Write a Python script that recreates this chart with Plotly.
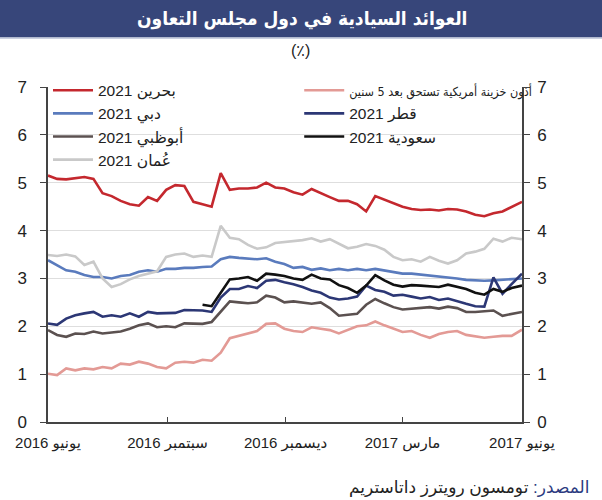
import datetime as dt
import plotly.graph_objects as go

start = dt.date(2016, 6, 1)
dates = [(start + dt.timedelta(days=7 * k)).isoformat() for k in range(52)] + ["2017-06-01"]

bahrain = [5.15, 5.08, 5.07, 5.09, 5.12, 5.08, 4.78, 4.72, 4.62, 4.55, 4.52, 4.70, 4.62,
           4.85, 4.95, 4.93, 4.60, 4.55, 4.50, 5.20, 4.85, 4.88, 4.88, 4.90, 5.00, 4.90,
           4.88, 4.80, 4.75, 4.87, 4.78, 4.70, 4.62, 4.62, 4.55, 4.40, 4.72, 4.65, 4.58,
           4.50, 4.45, 4.43, 4.44, 4.42, 4.45, 4.44, 4.40, 4.33, 4.30, 4.36, 4.40, 4.50, 4.60]
oman = [3.49, 3.47, 3.50, 3.46, 3.28, 3.35, 3.00, 2.82, 2.88, 2.98, 3.05, 3.10, 3.15,
        3.45, 3.50, 3.52, 3.45, 3.48, 3.45, 4.10, 3.85, 3.82, 3.70, 3.62, 3.65, 3.74,
        3.76, 3.77, 3.80, 3.84, 3.77, 3.82, 3.72, 3.63, 3.66, 3.72, 3.68, 3.60, 3.45,
        3.38, 3.40, 3.35, 3.45, 3.37, 3.31, 3.38, 3.52, 3.56, 3.62, 3.83, 3.77, 3.85, 3.82]
dubai = [3.38, 3.28, 3.17, 3.14, 3.07, 3.03, 3.03, 3.00, 3.05, 3.07, 3.14, 3.17, 3.14,
         3.20, 3.20, 3.22, 3.22, 3.24, 3.25, 3.40, 3.45, 3.43, 3.42, 3.40, 3.42, 3.35,
         3.30, 3.22, 3.24, 3.18, 3.21, 3.17, 3.20, 3.17, 3.20, 3.17, 3.20, 3.17, 3.14,
         3.10, 3.10, 3.08, 3.06, 3.05, 3.02, 3.00, 2.97, 2.96, 2.95, 2.96, 2.97, 2.98, 3.00]
qatar = [2.06, 2.03, 2.16, 2.23, 2.27, 2.30, 2.20, 2.23, 2.20, 2.27, 2.20, 2.30, 2.27,
         2.27, 2.28, 2.34, 2.33, 2.33, 2.30, 2.60, 2.78, 2.78, 2.84, 2.80, 2.95, 2.97,
         2.92, 2.88, 2.82, 2.75, 2.70, 2.60, 2.56, 2.58, 2.62, 2.85, 2.76, 2.72, 2.64,
         2.66, 2.62, 2.58, 2.61, 2.55, 2.58, 2.52, 2.47, 2.42, 2.41, 3.02, 2.68, 2.88, 3.10]
abudhabi = [1.92, 1.82, 1.78, 1.85, 1.84, 1.89, 1.85, 1.87, 1.89, 1.95, 2.02, 2.06, 1.98,
            2.00, 1.98, 2.06, 2.06, 2.05, 2.09, 2.30, 2.52, 2.50, 2.48, 2.50, 2.64, 2.60,
            2.50, 2.52, 2.50, 2.47, 2.50, 2.38, 2.22, 2.24, 2.26, 2.45, 2.57, 2.48, 2.40,
            2.35, 2.37, 2.38, 2.40, 2.37, 2.41, 2.38, 2.30, 2.30, 2.31, 2.33, 2.22, 2.25, 2.30]
ust5 = [1.01, 0.98, 1.12, 1.08, 1.12, 1.10, 1.15, 1.12, 1.22, 1.20, 1.26, 1.22, 1.15,
        1.12, 1.24, 1.26, 1.24, 1.30, 1.28, 1.45, 1.75, 1.80, 1.85, 1.90, 2.05, 2.06,
        1.95, 1.90, 1.88, 1.98, 1.95, 1.92, 1.85, 1.92, 2.00, 2.02, 2.10, 2.02, 1.95,
        1.88, 1.90, 1.82, 1.76, 1.84, 1.88, 1.90, 1.82, 1.79, 1.76, 1.78, 1.80, 1.80, 1.93]
saudi = [None] * 17 + [2.45, 2.42, 2.70, 2.98, 3.00, 3.03, 2.95, 3.10, 3.08,
                       3.05, 3.00, 2.97, 3.08, 3.00, 2.98, 2.86, 2.80, 2.70, 2.85, 3.07, 2.96, 2.87,
                       2.83, 2.86, 2.85, 2.84, 2.82, 2.87, 2.82, 2.78, 2.70, 2.66, 2.78, 2.72, 2.80, 2.85]

tick_vals = ["2016-06-01", "2016-09-01", "2016-12-01", "2017-03-01", "2017-06-01"]
tick_text = ["يونيو 2016", "سبتمبر 2016", "ديسمبر 2016", "مارس 2017", "يونيو 2017"]

COND = "DejaVu Sans Condensed"
ust_name = ("<span style='font-family:\"DejaVu Sans Condensed\";font-size:12.5px'>"
            "أذون خزينة أمريكية تستحق بعد 5 سنين</span>")

series = [
    # name, data, color, legend, rank
    (ust_name, ust5, "#e39a95", "legend2", 1),
    ("أبوظبي 2021", abudhabi, "#5b5150", "legend", 3),
    ("دبي 2021", dubai, "#5a7bbd", "legend", 2),
    ("عُمان 2021", oman, "#c9c9c9", "legend", 4),
    ("قطر 2021", qatar, "#2c3775", "legend2", 2),
    ("سعودية 2021", saudi, "#111111", "legend2", 3),
    ("بحرين 2021", bahrain, "#c4282e", "legend", 1),
]

FONT = "Arial, Liberation Sans, DejaVu Sans, sans-serif"

fig = go.Figure()
for name, vals, color, leg, rank in series:
    fig.add_trace(go.Scatter(x=dates, y=vals, name=name, mode="lines",
                             line=dict(color=color, width=2.6), legend=leg,
                             legendrank=rank, connectgaps=False))

fig.update_layout(
    width=602, height=500,
    margin=dict(l=48, r=80, t=87, b=78),
    paper_bgcolor="white", plot_bgcolor="white",
    font=dict(family=FONT, color="#222"),
    xaxis=dict(type="date", range=["2016-06-01", "2017-06-01"],
               tickvals=tick_vals, ticktext=tick_text, ticks="inside",
               ticklen=5, tickcolor="#444", showline=True, linecolor="#444",
               linewidth=1.5, showgrid=False, tickfont=dict(size=15, color="#222"),
               zeroline=False, ticklabelstandoff=6),
    yaxis=dict(range=[0, 7], dtick=1, showgrid=True, gridcolor="#dedede",
               gridwidth=1, ticks="outside", ticklen=6, tickcolor="#444",
               showline=True, linecolor="#444", linewidth=1.5, zeroline=False,
               tickfont=dict(size=17, color="#222"), ticklabelstandoff=10),
    yaxis2=dict(range=[0, 7], dtick=1, overlaying="y", side="right", showgrid=False,
                ticks="outside", ticklen=6, tickcolor="#444", showline=True,
                linecolor="#444", linewidth=1.5, zeroline=False,
                tickfont=dict(size=17, color="#222"), ticklabelstandoff=4),
    legend=dict(x=0.0, xanchor="left", y=1.04, yanchor="top", orientation="v",
                bgcolor="rgba(0,0,0,0)", font=dict(size=15.5, color="#222"),
                tracegroupgap=0, itemwidth=40),
    legend2=dict(x=0.53, xanchor="left", y=1.04, yanchor="top", orientation="v",
                 bgcolor="rgba(0,0,0,0)", font=dict(size=15.5, color="#222"),
                 tracegroupgap=0, itemwidth=40),
    showlegend=True,
)

# invisible trace to activate right axis
fig.add_trace(go.Scatter(x=[dates[0]], y=[0], yaxis="y2", mode="markers",
                         marker=dict(opacity=0), showlegend=False, hoverinfo="skip"))

# title banner
fig.add_shape(type="rect", xref="paper", yref="paper", x0=-0.11, x1=1.18,
              y0=1.148, y1=1.27, fillcolor="#37467a", line=dict(width=0), layer="below")
fig.add_shape(type="line", xref="paper", yref="paper", x0=-0.11, x1=1.18,
              y0=1.146, y1=1.146, line=dict(color="#b9c0d6", width=1.5))
fig.add_annotation(xref="paper", yref="paper", x=0.535, y=1.205, yanchor="middle",
                   text="<b>العوائد السيادية في دول مجلس التعاون</b>",
                   showarrow=False, font=dict(size=19, color="white",
                                              family=COND + ", " + FONT))
fig.add_annotation(xref="paper", yref="paper", x=0.532, y=1.11, yanchor="middle", text="(٪)",
                   showarrow=False, font=dict(size=16, color="#222", family=FONT))
fig.add_annotation(xref="paper", yref="paper", x=1.145, xanchor="right", y=-0.197,
                   yanchor="middle",
                   text="<span style='color:#2c3a80'>المصدر:</span> تومسون رويترز داتاستريم",
                   showarrow=False, font=dict(size=17, color="#222", family=FONT))

fig.write_html("out.html")
